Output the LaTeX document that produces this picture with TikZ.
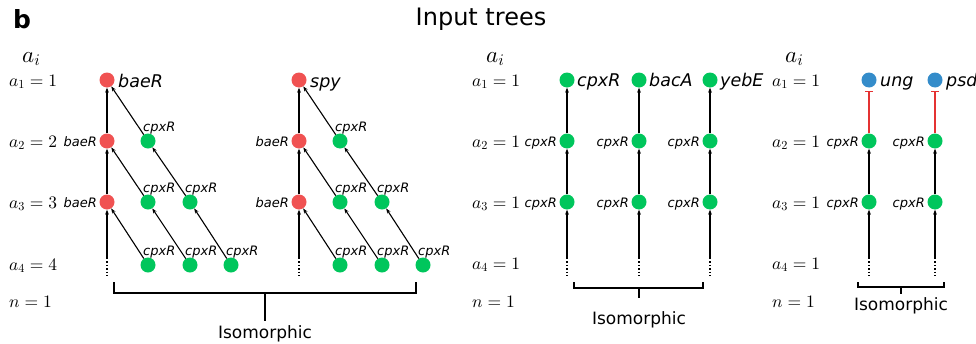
\documentclass[tikz,border=0pt]{standalone}
\usepackage{fontspec}
\setsansfont{DejaVu Sans}
\newfontfamily\dv{DejaVu Sans}
\DeclareFontShape{OML}{cmm}{m}{it}{<->cmmi10}{}
\DeclareFontShape{OT1}{cmr}{m}{n}{<->cmr10}{}
\DeclareFontShape{OMS}{cmsy}{m}{n}{<->cmsy10}{}
\usetikzlibrary{arrows.meta,calc}
\definecolor{nred}{RGB}{240,82,82}
\definecolor{ngreen}{RGB}{0,198,92}
\definecolor{nblue}{RGB}{52,140,202}
\definecolor{lred}{RGB}{228,50,50}
\tikzset{
  dotnode/.style={circle,inner sep=0pt,minimum size=15pt,draw=none},
  rn/.style={dotnode,fill=nred},
  gn/.style={dotnode,fill=ngreen},
  bn/.style={dotnode,fill=nblue},
  edge/.style={line width=1.1pt,-{Stealth[length=5pt,width=3.8pt]}},
  inhib/.style={line width=1.3pt,draw=lred,shorten >=3pt,-{Bar[width=8pt,line width=1.3pt]}},
  dots/.style={line width=1.7pt,dash pattern=on 1.4pt off 2pt},
  brk/.style={line width=1.6pt},
  sl/.style={inner sep=0pt,font=\dv\itshape\fontsize{13}{13}\selectfont},
  bl/.style={inner sep=0pt,anchor=base west,font=\dv\itshape\fontsize{17.5}{17.5}\selectfont},
  ml/.style={inner sep=0pt,anchor=base west,font=\fontsize{17.5}{17.5}\selectfont},
  ai/.style={inner sep=0pt,anchor=base west,font=\fontsize{23}{23}\selectfont},
  iso/.style={inner sep=0pt,font=\dv\fontsize{17}{17}\selectfont},
}
\begin{document}
\begin{tikzpicture}[x=1pt,y=-1pt]
\useasboundingbox (0,0) rectangle (976,343);
% title
\node[inner sep=0pt,font=\dv\bfseries\fontsize{25}{25}\selectfont] (lb) at (22,19) {b};
\node[inner sep=0pt,font=\dv\fontsize{24}{24}\selectfont] (title) at (481,19) {Input trees};

% ---------- left panel labels
\node[ai] (lai) at (22,62) {$a_i$};
\node[ml] (la1) at (9,86) {$a_1=1$};
\node[ml] (la2) at (9,147) {$a_2=2$};
\node[ml] (la3) at (9,208) {$a_3=3$};
\node[ml] (la4) at (9,270) {$a_4=4$};
\node[ml] (ln) at (9,307) {$n=1$};

% ---------- tree 1
\node[rn] (ar1) at (107,80) {};
\node[rn] (ar2) at (107,141) {};
\node[rn] (ar3) at (107,202) {};
\node[gn] (ag21) at (148,141) {};
\node[gn] (ag31) at (148,202) {};
\node[gn] (ag32) at (190,202) {};
\node[gn] (ag41) at (148,265) {};
\node[gn] (ag42) at (190,265) {};
\node[gn] (ag43) at (231,265) {};
\coordinate (ad1) at (107,258);
\coordinate (ad2) at (107,276);
\draw[dots] (ad1) -- (ad2);
\draw[edge] (ar2) -- (ar1);
\draw[edge] (ar3) -- (ar2);
\draw[edge] (ad1) -- (ar3);
\draw[edge] (ag21) -- (ar1);
\draw[edge] (ag31) -- (ar2);
\draw[edge] (ag32) -- (ag21);
\draw[edge] (ag41) -- (ar3);
\draw[edge] (ag42) -- (ag31);
\draw[edge] (ag43) -- (ag32);
\node[bl] (tar1) at ($(ar1)+(11,7)$) {baeR};
\node[sl,anchor=base east] (tar2) at ($(ar2)+(-10,5)$) {baeR};
\node[sl,anchor=base east] (tar3) at ($(ar3)+(-10,5)$) {baeR};
\node[sl,anchor=base west] (tag21) at ($(ag21)+(-5,-10)$) {cpxR};
\node[sl,anchor=base west] (tag31) at ($(ag31)+(-5,-10)$) {cpxR};
\node[sl,anchor=base west] (tag32) at ($(ag32)+(-5,-10)$) {cpxR};
\node[sl,anchor=base west] (tag41) at ($(ag41)+(-5,-10)$) {cpxR};
\node[sl,anchor=base west] (tag42) at ($(ag42)+(-5,-10)$) {cpxR};
\node[sl,anchor=base west] (tag43) at ($(ag43)+(-5,-10)$) {cpxR};

% ---------- tree 2
\node[rn] (br1) at (299,80) {};
\node[rn] (br2) at (299,141) {};
\node[rn] (br3) at (299,202) {};
\node[gn] (bg21) at (340,141) {};
\node[gn] (bg31) at (340,202) {};
\node[gn] (bg32) at (382,202) {};
\node[gn] (bg41) at (340,265) {};
\node[gn] (bg42) at (382,265) {};
\node[gn] (bg43) at (423,265) {};
\coordinate (bd1) at (299,258);
\coordinate (bd2) at (299,276);
\draw[dots] (bd1) -- (bd2);
\draw[edge] (br2) -- (br1);
\draw[edge] (br3) -- (br2);
\draw[edge] (bd1) -- (br3);
\draw[edge] (bg21) -- (br1);
\draw[edge] (bg31) -- (br2);
\draw[edge] (bg32) -- (bg21);
\draw[edge] (bg41) -- (br3);
\draw[edge] (bg42) -- (bg31);
\draw[edge] (bg43) -- (bg32);
\node[bl] (tbr1) at ($(br1)+(11,7)$) {spy};
\node[sl,anchor=base east] (tbr2) at ($(br2)+(-10,5)$) {baeR};
\node[sl,anchor=base east] (tbr3) at ($(br3)+(-10,5)$) {baeR};
\node[sl,anchor=base west] (tbg21) at ($(bg21)+(-5,-10)$) {cpxR};
\node[sl,anchor=base west] (tbg31) at ($(bg31)+(-5,-10)$) {cpxR};
\node[sl,anchor=base west] (tbg32) at ($(bg32)+(-5,-10)$) {cpxR};
\node[sl,anchor=base west] (tbg41) at ($(bg41)+(-5,-10)$) {cpxR};
\node[sl,anchor=base west] (tbg42) at ($(bg42)+(-5,-10)$) {cpxR};
\node[sl,anchor=base west] (tbg43) at ($(bg43)+(-5,-10)$) {cpxR};

% bracket 1
\coordinate (k1a) at (114,282);
\coordinate (k1b) at (416,282);
\coordinate (k1c) at (265,293);
\coordinate (k1d) at (265,321);
\draw[brk] (k1a) |- (k1c) -| (k1b);
\draw[brk] (k1c) -- (k1d);
\node[iso] (iso1) at (265,334) {Isomorphic};

% ---------- middle panel
\node[ai] (mai) at (486,62) {$a_i$};
\node[ml] (ma1) at (472,86) {$a_1=1$};
\node[ml] (ma2) at (472,147) {$a_2=1$};
\node[ml] (ma3) at (472,208) {$a_3=1$};
\node[ml] (ma4) at (472,269) {$a_4=1$};
\node[ml] (mn) at (472,307) {$n=1$};
\foreach \c/\x/\top in {c/567/cpxR,d/639/bacA,e/710/yebE}{
  \node[gn] (\c1) at (\x,80) {};
  \node[gn] (\c2) at (\x,141) {};
  \node[gn] (\c3) at (\x,202) {};
  \coordinate (\c d1) at (\x,258);
  \coordinate (\c d2) at (\x,276);
  \draw[dots] (\c d1) -- (\c d2);
  \draw[edge] (\c2) -- (\c1);
  \draw[edge] (\c3) -- (\c2);
  \draw[edge] (\c d1) -- (\c3);
  \node[bl] (t\c1) at ($(\c1)+(10,6)$) {\top};
  \node[sl,anchor=base east] (t\c2) at ($(\c2)+(-10,5)$) {cpxR};
  \node[sl,anchor=base east] (t\c3) at ($(\c3)+(-10,5)$) {cpxR};
}
\coordinate (k2a) at (574,282);
\coordinate (k2b) at (703,282);
\coordinate (k2c) at (639,288);
\coordinate (k2d) at (639,298);
\draw[brk] (k2a) |- (k2c) -| (k2b);
\draw[brk] (k2c) -- (k2d);
\node[iso] (iso2) at (639,320) {Isomorphic};

% ---------- right panel
\node[ai] (rai) at (785,62) {$a_i$};
\node[ml] (ra1) at (772,86) {$a_1=1$};
\node[ml] (ra2) at (772,147) {$a_2=1$};
\node[ml] (ra3) at (772,208) {$a_3=1$};
\node[ml] (ra4) at (772,269) {$a_4=1$};
\node[ml] (rn) at (772,307) {$n=1$};
\foreach \c/\x/\top in {u/869/ung,p/935/psd}{
  \node[bn] (\c1) at (\x,80) {};
  \node[gn] (\c2) at (\x,141) {};
  \node[gn] (\c3) at (\x,202) {};
  \coordinate (\c d1) at (\x,258);
  \coordinate (\c d2) at (\x,276);
  \draw[dots] (\c d1) -- (\c d2);
  \draw[inhib] (\c2) -- (\c1);
  \draw[edge] (\c3) -- (\c2);
  \draw[edge] (\c d1) -- (\c3);
  \node[bl] (t\c1) at ($(\c1)+(11,6)$) {\top};
  \node[sl,anchor=base east] (t\c2) at ($(\c2)+(-10,5)$) {cpxR};
  \node[sl,anchor=base east] (t\c3) at ($(\c3)+(-10,5)$) {cpxR};
}
\coordinate (k3a) at (858,282);
\coordinate (k3b) at (944,282);
\coordinate (k3c) at (901,287);
\coordinate (k3d) at (901,294);
\draw[brk] (k3a) |- (k3c) -| (k3b);
\draw[brk] (k3c) -- (k3d);
\node[iso] (iso3) at (901,306) {Isomorphic};
\end{tikzpicture}
\end{document}
